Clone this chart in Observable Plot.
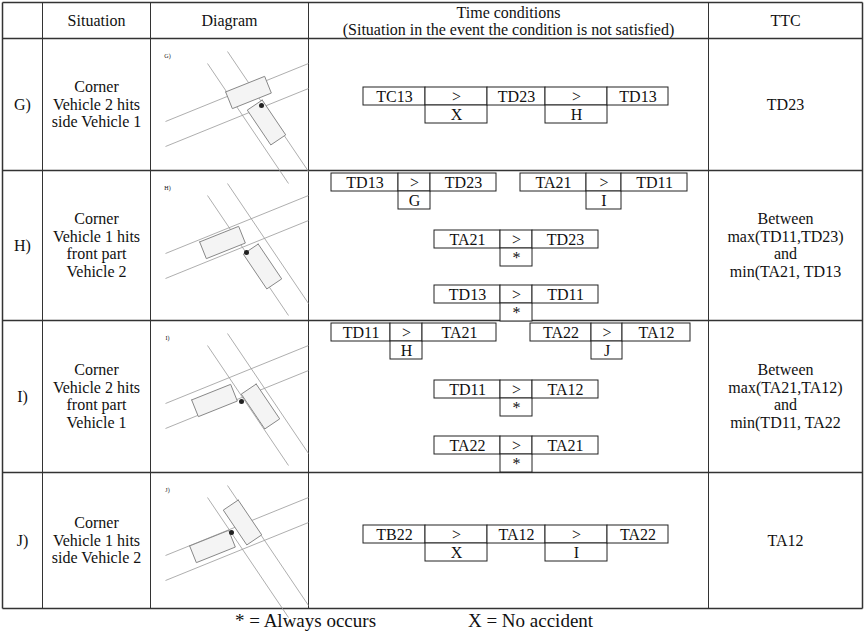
<!DOCTYPE html>
<html>
<head>
<meta charset="utf-8">
<script src="https://cdn.jsdelivr.net/npm/d3@7"></script>
<script src="https://cdn.jsdelivr.net/npm/@observablehq/plot@0.6"></script>
<style>
  body { margin: 0; background: white; }
</style>
</head>
<body>
<div id="chart"></div>
<script>
// datos de la tabla
const headers = ['Situation', 'Diagram', 'Time conditions', 'TTC']
const headerSub = '(Situation in the event the condition is not satisfied)'
const rowIds = ['G)', 'H)', 'I)', 'J)']
const situations = [
  ['Corner', 'Vehicle 2 hits', 'side Vehicle 1'],
  ['Corner', 'Vehicle 1 hits', 'front part', 'Vehicle 2'],
  ['Corner', 'Vehicle 2 hits', 'front part', 'Vehicle 1'],
  ['Corner', 'Vehicle 1 hits', 'side Vehicle 2']
]
const ttc = [
  ['TD23'],
  ['Between', 'max(TD11,TD23)', 'and', 'min(TA21, TD13'],
  ['Between', 'max(TA21,TA12)', 'and', 'min(TD11, TA22'],
  ['TA12']
]
// cadenas de condiciones: [fila, celdas, resultados bajo cada ">"]
const chains = [
  [0, ['TC13', '>', 'TD23', '>', 'TD13'], ['X', 'H']],
  [1, ['TD13', '>', 'TD23'], ['G']],
  [1, ['TA21', '>', 'TD11'], ['I']],
  [1, ['TA21', '>', 'TD23'], ['*']],
  [1, ['TD13', '>', 'TD11'], ['*']],
  [2, ['TD11', '>', 'TA21'], ['H']],
  [2, ['TA22', '>', 'TA12'], ['J']],
  [2, ['TD11', '>', 'TA12'], ['*']],
  [2, ['TA22', '>', 'TA21'], ['*']],
  [3, ['TB22', '>', 'TA12', '>', 'TA22'], ['X', 'I']]
]
const legend = ['* = Always occurs', 'X = No accident']

// layout
const colX = [2, 42, 150, 308, 708, 862]
const rowY = [2, 38, 170, 320, 472, 608]
const boxH = 18
const chainPos = [ // [x edges, y top]
  [[363, 425, 487, 545, 607, 668], 87],
  [[331, 398, 430, 496], 173],
  [[520, 586, 621, 687], 173],
  [[434, 500, 532, 598], 230],
  [[434, 500, 532, 598], 285],
  [[331, 390, 422, 496], 323],
  [[530, 591, 622, 690], 323],
  [[434, 500, 532, 598], 380],
  [[434, 500, 532, 598], 436],
  [[363, 425, 487, 545, 607, 668], 525]
]
const carPos = [ // centro coche vía A, centro coche vía B (relativo a celda)
  [[98, 54], [116, 84]],
  [[72, 72], [112, 96]],
  [[64, 80], [110, 86]],
  [[62, 74], [92, 50]]
]

const rects = [], texts = [], segs = [], cars = [], dots = []
// grid
for (const x of colX) segs.push({x1: x, y1: rowY[0], x2: x, y2: rowY[5], w: x === colX[0] || x === colX[5] ? 1.5 : 1})
for (const y of rowY) segs.push({x1: colX[0], y1: y, x2: colX[5], y2: y, w: 1.5})

const mid = i => (colX[i] + colX[i + 1]) / 2
texts.push({x: mid(1), y: 20, t: headers[0]}, {x: mid(2), y: 20, t: headers[1]},
  {x: mid(3), y: 12, t: headers[2]}, {x: mid(3), y: 29, t: headerSub}, {x: mid(4), y: 20, t: headers[3]})

rowIds.forEach((id, r) => {
  const cy = (rowY[r + 1] + rowY[r + 2]) / 2
  texts.push({x: 22, y: cy, t: id})
  const lines = (arr, cx) => arr.forEach((t, k) => texts.push({x: cx, y: cy + (k - (arr.length - 1) / 2) * 17.5, t}))
  lines(situations[r], mid(1))
  lines(ttc[r], mid(4))
  // diagrama
  const ox = colX[2], oy = rowY[r + 1]
  const roads = [[15, 83, 158, 25], [15, 108, 158, 50], [57, 25, 138, 145], [77, 13, 158, 133]]
  for (const [a, b, c, d] of roads) segs.push({x1: ox + a, y1: oy + b, x2: ox + c, y2: oy + d, w: 0.8, c: '#999'})
  texts.push({x: ox + 17, y: oy + 18, t: id, s: 6})
  carPos[r].forEach(([cx, cy2], k) => {
    const ang = k === 0 ? -21.8 * Math.PI / 180 : 56 * Math.PI / 180
    const L = 21, W = 9, ca = Math.cos(ang), sa = Math.sin(ang)
    const corners = [[-L, -W], [L, -W], [L, W], [-L, W], [-L, -W]]
    corners.forEach(([u, v]) => cars.push({id: `${r}-${k}`, x: ox + cx + u * ca - v * sa, y: oy + cy2 + u * sa + v * ca}))
  })
  const [a, b] = carPos[r]
  dots.push({x: ox + (a[0] + b[0]) / 2 + 4, y: oy + (a[1] + b[1]) / 2 - 2})
})

chains.forEach(([r, cells, outs], i) => {
  const [xs, y] = chainPos[i]
  let o = 0
  cells.forEach((t, k) => {
    rects.push({x1: xs[k], x2: xs[k + 1], y1: y, y2: y + boxH})
    texts.push({x: (xs[k] + xs[k + 1]) / 2, y: y + boxH / 2, t})
    if (t === '>') {
      rects.push({x1: xs[k], x2: xs[k + 1], y1: y + boxH, y2: y + 2 * boxH})
      texts.push({x: (xs[k] + xs[k + 1]) / 2, y: y + 1.5 * boxH, t: outs[o++]})
    }
  })
})
texts.push({x: 305, y: 620, t: legend[0], s: 19}, {x: 530, y: 620, t: legend[1], s: 19})

const chart = Plot.plot({
  width: 865, height: 631, margin: 0,
  style: {fontFamily: '"Liberation Serif", "DejaVu Serif", serif', background: 'white'},
  x: {domain: [0, 865], range: [0, 865], axis: null},
  y: {domain: [0, 631], range: [0, 631], axis: null},
  marks: [
    Plot.link(segs, {x1: 'x1', y1: 'y1', x2: 'x2', y2: 'y2', stroke: d => d.c || '#333', strokeWidth: 'w'}),
    Plot.line(cars, {x: 'x', y: 'y', z: 'id', stroke: '#888', strokeWidth: 1, fill: '#f4f4f4', fillOpacity: 1}),
    Plot.dot(dots, {x: 'x', y: 'y', r: 2.5, fill: '#222'}),
    Plot.rect(rects, {x1: 'x1', x2: 'x2', y1: 'y1', y2: 'y2', fill: 'white', stroke: '#222', strokeWidth: 1}),
    Plot.text(texts, {x: 'x', y: 'y', text: 't', fontSize: d => d.s || 16, fill: '#111'})
  ]
})
d3.select('#chart').append(() => chart)
</script>
</body>
</html>
